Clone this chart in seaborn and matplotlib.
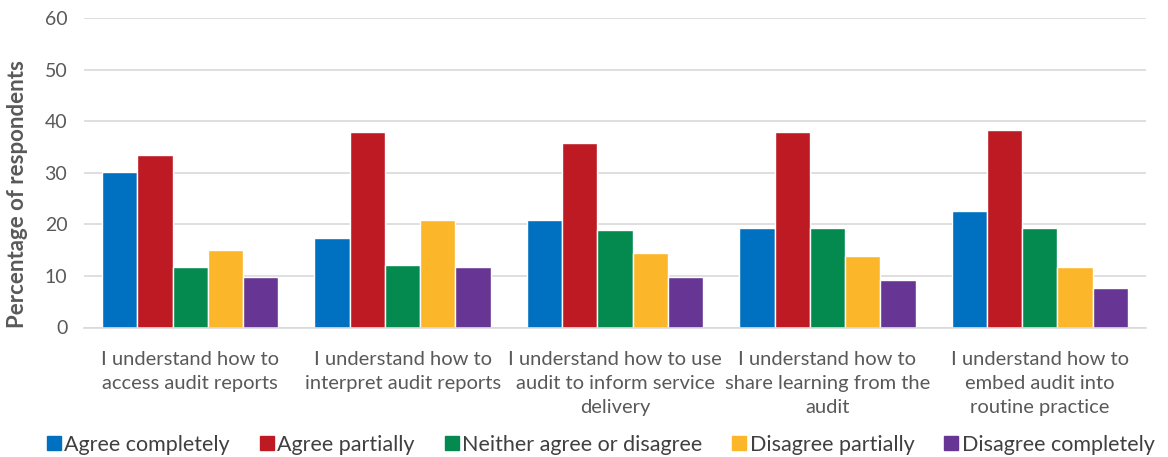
import matplotlib
matplotlib.use("Agg")
import matplotlib.pyplot as plt
import seaborn as sns
import pandas as pd
from matplotlib.lines import Line2D

categories = [
    "I understand how to\naccess audit reports",
    "I understand how to\ninterpret audit reports",
    "I understand how to use\naudit to inform service\ndelivery",
    "I understand how to\nshare learning from the\naudit",
    "I understand how to\nembed audit into\nroutine practice",
]
series_names = ["Agree completely", "Agree partially", "Neither agree or disagree",
                "Disagree partially", "Disagree completely"]
agree_completely = [30.2, 17.4, 20.9, 19.4, 22.6]
agree_partially = [33.5, 37.9, 35.8, 37.9, 38.4]
neither = [11.8, 12.2, 19.0, 19.4, 19.4]
disagree_partially = [15.0, 20.9, 14.4, 13.9, 11.7]
disagree_completely = [9.8, 11.7, 9.8, 9.2, 7.7]
colors = ["#0070C0", "#BE1A24", "#048A4F", "#FBB62A", "#673695"]
yticks = [0, 10, 20, 30, 40, 50, 60]

values = [agree_completely, agree_partially, neither, disagree_partially, disagree_completely]
rows = []
for name, vals in zip(series_names, values):
    for cat, v in zip(categories, vals):
        rows.append({"cat": cat, "series": name, "val": v})
df = pd.DataFrame(rows)

sns.set_theme(style="white")
plt.rcParams["font.family"] = ["Lato", "DejaVu Sans"]

fig = plt.figure(figsize=(11.68, 4.57), dpi=100)
ax = fig.add_axes([84 / 1168, 1 - 327.5 / 457, (1146 - 84) / 1168, (327.5 - 18.3) / 457])

sns.barplot(data=df, x="cat", y="val", hue="series", order=categories,
            hue_order=series_names, palette=colors, width=0.83, saturation=1,
            edgecolor="white", linewidth=1.0, ax=ax, legend=True)

ax.set_ylim(0, 60)
ax.set_xlim(-0.5, 4.5)
ax.set_yticks(yticks)
ax.yaxis.grid(True, color="#D9D9D9", linewidth=1.2)
ax.set_axisbelow(True)
for s in ["top", "right", "left"]:
    ax.spines[s].set_visible(False)
ax.spines["bottom"].set_color("#D9D9D9")
ax.spines["bottom"].set_linewidth(1.2)
ax.tick_params(axis="y", colors="#595959", labelsize=14, length=0, pad=12)
ax.tick_params(axis="x", colors="#595959", labelsize=14.5, length=0, pad=17)
for t in ax.get_xticklabels():
    t.set_linespacing(1.5)
ax.set_xlabel("")
ax.set_ylabel("Percentage of respondents", fontsize=16, fontweight="bold", color="#595959")
ax.yaxis.set_label_coords(-0.053, 0.43)

ax.get_legend().remove()
hs = [Line2D([], [], marker="s", linestyle="", markersize=10, color=c) for c in colors]
fig.legend(hs, series_names, loc="center", bbox_to_anchor=(600 / 1168, 1 - 445 / 457),
           ncol=5, frameon=False, fontsize=15.5, handletextpad=0.1, columnspacing=1.3,
           labelcolor="#404040", handlelength=0.8)

fig.savefig("out.png", dpi=100)
